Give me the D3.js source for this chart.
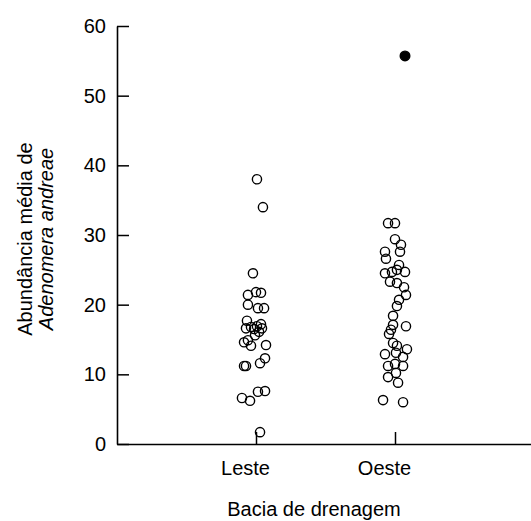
<!DOCTYPE html>
<html>
<head>
<meta charset="utf-8">
<script src="https://cdn.jsdelivr.net/npm/d3@7"></script>
<style>
  html, body { margin: 0; padding: 0; background: #fff; }
  svg text { font-family: "Liberation Sans", Arial, sans-serif; fill: #000; }
</style>
</head>
<body>
<svg id="chart" width="531" height="521"></svg>
<script>
// Drainage basins on the x axis
const categories = ["Leste", "Oeste"];

// Mean abundance per site, east basin, with horizontal jitter (category units)
const lesteValues = [38.0, 34.0, 24.5, 21.4, 21.8, 21.7, 20.0, 19.5, 19.5, 17.7, 16.6, 16.8, 16.5, 16.9, 17.2, 16.6,
  16.1, 15.6, 14.6, 14.9, 14.1, 14.2, 11.2, 11.2, 11.6, 12.3, 6.6, 6.2, 7.5, 7.6, 1.7];
const lesteJitter = [0.007, 0.050, -0.022, -0.058, 0, 0.036, -0.058, 0.014, 0.058, -0.065, -0.072, -0.036, -0.014, 0.007, 0.036, 0.043,
  0.022, -0.007, -0.086, -0.058, -0.036, 0.072, -0.086, -0.072, 0.029, 0.065, -0.101, -0.043, 0.014, 0.065, 0.029];

// Mean abundance per site, west basin
const oesteValues = [31.7, 31.7, 29.4, 28.6, 27.6, 27.6, 26.6, 25.7, 24.5, 24.7, 25.0, 24.7, 23.3, 23.1, 22.5, 21.4,
  20.7, 19.8, 18.4, 17.1, 16.4, 15.8, 16.9, 14.5, 14.1, 13.6, 12.9, 13.1, 12.5, 11.2, 11.5, 11.2, 9.6, 10.2, 8.8, 6.3, 6.0];
const oesteJitter = [-0.050, 0, 0, 0.043, 0.036, -0.072, -0.065, 0.029, -0.072, -0.022, 0.014, 0.072, -0.036, 0.014, 0.065, 0.079,
  0.029, 0.014, -0.014, -0.014, -0.029, -0.043, 0.079, -0.014, 0.014, 0.086, -0.072, 0.007, 0.058, -0.050, 0, 0.058, -0.050, 0.007, 0.022, -0.086, 0.058];

// Outlying site in the west basin (drawn filled)
const oesteOutlier = [55.7];
const oesteOutlierJitter = [0.072];

const yTicks = [0, 10, 20, 30, 40, 50, 60];

const svg = d3.select("#chart");

const x = d3.scaleLinear().domain([0, 3]).range([117, 534]);
const y = d3.scaleLinear().domain([0, 60]).range([444, 26]);

const points = [];
lesteValues.forEach((v, i) => points.push({ cat: 1, j: lesteJitter[i], v, filled: false }));
oesteValues.forEach((v, i) => points.push({ cat: 2, j: oesteJitter[i], v, filled: false }));
oesteOutlier.forEach((v, i) => points.push({ cat: 2, j: oesteOutlierJitter[i], v, filled: true }));

// Y axis
const yAxis = svg.append("g")
  .attr("transform", `translate(${x(0)},0)`)
  .call(d3.axisLeft(y).tickValues(yTicks).tickSizeInner(-12).tickSizeOuter(0).tickPadding(11));

// X axis
const xAxis = svg.append("g")
  .attr("transform", `translate(0,${y(0)})`)
  .call(d3.axisBottom(x).tickValues([1, 2]).tickFormat(d => categories[d - 1])
    .tickSizeInner(-12).tickSizeOuter(0).tickPadding(17));
xAxis.selectAll(".tick text").attr("x", -11);

[yAxis, xAxis].forEach(g => {
  g.selectAll("path.domain").attr("stroke", "#000").attr("stroke-width", 1.6);
  g.selectAll(".tick line").attr("stroke", "#000").attr("stroke-width", 1.5);
  g.selectAll(".tick text").attr("font-size", 20).attr("font-family", "Liberation Sans, Arial, sans-serif");
});

// Points
svg.append("g").selectAll("circle")
  .data(points)
  .join("circle")
  .attr("cx", d => x(d.cat + d.j))
  .attr("cy", d => y(d.v))
  .attr("r", d => d.filled ? 4.8 : 4.6)
  .attr("fill", d => d.filled ? "#000" : "none")
  .attr("stroke", "#000")
  .attr("stroke-width", 1.4);

// Axis titles
svg.append("text")
  .attr("x", 314).attr("y", 516)
  .attr("text-anchor", "middle")
  .attr("font-size", 20)
  .text("Bacia de drenagem");

const yTitle = svg.append("g").attr("transform", "translate(0,239) rotate(-90)");
yTitle.append("text")
  .attr("x", 0).attr("y", 32)
  .attr("text-anchor", "middle")
  .attr("font-size", 20)
  .text("Abundância média de");
yTitle.append("text")
  .attr("x", 0).attr("y", 53)
  .attr("text-anchor", "middle")
  .attr("font-size", 20)
  .attr("font-style", "italic")
  .text("Adenomera andreae");
</script>
</body>
</html>
